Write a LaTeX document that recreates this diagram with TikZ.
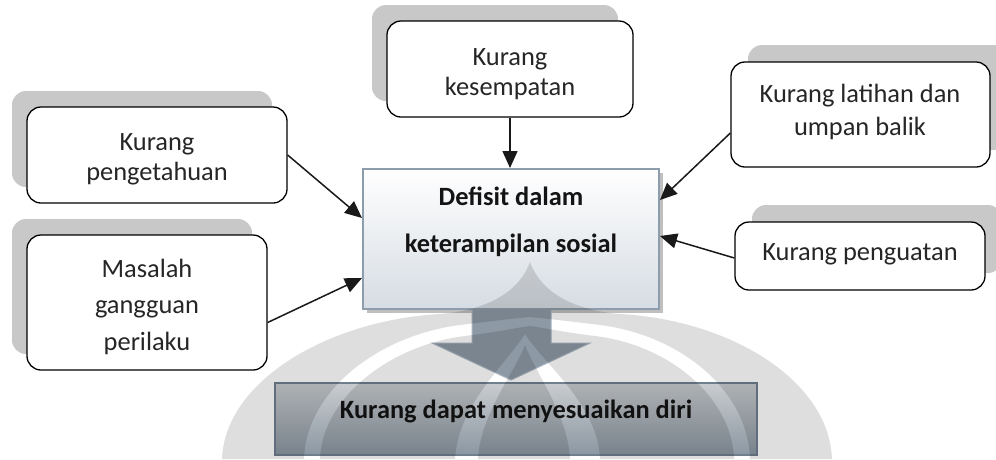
\documentclass[tikz,border=0pt]{standalone}
\usepackage{fontspec}
\setmainfont{Carlito}
\usetikzlibrary{arrows.meta,shadows}
\definecolor{shadowgray}{HTML}{C8C8C8}
\definecolor{txtgray}{HTML}{262626}
\definecolor{cboxedge}{HTML}{8E9DAB}
\definecolor{cboxbot}{HTML}{D6DCE3}
\definecolor{bboxedge}{HTML}{6F7F8E}
\definecolor{bboxtop}{HTML}{C9CCCF}
\definecolor{bboxbot}{HTML}{8B97A2}
\definecolor{bigarrow}{HTML}{8D99A5}
\definecolor{bigarrowedge}{HTML}{A9B6C2}
\tikzset{
  rbox/.style={draw=black, line width=1.3pt, fill=white, rounded corners=14pt, inner sep=0pt},
  lshadow/.style={general shadow={fill=shadowgray, rounded corners=16pt, shadow xshift=-15pt, shadow yshift=16pt}},
  rshadow/.style={general shadow={fill=shadowgray, rounded corners=16pt, shadow xshift=17pt, shadow yshift=17pt}},
  txt/.style={font=\fontsize{26.4}{30}\selectfont, text=txtgray, inner sep=0pt, anchor=base},
  btxt/.style={font=\fontsize{26.4}{30}\selectfont\bfseries, text=black!92, inner sep=0pt, anchor=base},
  arr/.style={line width=1.5pt, draw=black!90, -{Triangle[length=17pt,width=15pt]}},
}
\begin{document}
\begin{tikzpicture}[x=1pt,y=-1pt]
\useasboundingbox[fill=white] (0,0) rectangle (996,459);

% central box
\node[draw=cboxedge, line width=2pt, top color=white, bottom color=cboxbot,
      minimum width=296pt, minimum height=140pt, inner sep=0pt,
      general shadow={fill=black!25, shadow xshift=4pt, shadow yshift=-4pt}]
      (cbox) at (511,239) {};
\node[btxt] (c1) at (511,205) {Defisit dalam};
\node[btxt] (c2) at (511,252) {keterampilan sosial};

% big arrow
\path[fill=bigarrow, draw=bigarrowedge, line width=1pt]
  (472,310) -- (472,343) -- (432,343) -- (511,380) -- (590,343) -- (551,343) -- (551,310);

% bottom box
\node[draw=bboxedge, line width=2pt, top color=bboxtop, bottom color=bboxbot,
      minimum width=482pt, minimum height=72pt, inner sep=0pt]
      (bbox) at (516,419) {};
\node[btxt] (bt) at (516,418) {Kurang dapat menyesuaikan diri};

% watermark
\fill[black, opacity=0.13, even odd rule]
  (222,459) .. controls (225,380) and (330,320) .. (440,314) .. controls (490,310) and (520,290) .. (530,262)
            .. controls (540,290) and (570,310) .. (620,314) .. controls (730,320) and (829,380) .. (832,459) -- cycle
  (304,459) .. controls (306,390) and (380,335) .. (460,325) .. controls (500,320) and (520,318) .. (530,317)
            .. controls (540,318) and (560,320) .. (600,325) .. controls (680,335) and (748,390) .. (750,459) -- cycle
  (320,459) .. controls (322,398) and (390,345) .. (465,336) .. controls (505,331) and (520,327) .. (530,326)
            .. controls (540,327) and (555,331) .. (595,336) .. controls (670,345) and (732,398) .. (734,459) -- cycle
  (455,459) .. controls (458,405) and (505,365) .. (525,334) .. controls (545,365) and (598,405) .. (600,459) -- cycle
  (478,459) .. controls (480,415) and (515,372) .. (525,345) .. controls (535,372) and (568,415) .. (570,459) -- cycle;

% small boxes
\node[rbox, lshadow, minimum width=260pt, minimum height=96pt] (b1) at (157,155) {};
\node[txt] (b1a) at (157,150) {Kurang};
\node[txt] (b1b) at (157,180) {pengetahuan};

\node[rbox, lshadow, minimum width=240pt, minimum height=135pt] (b2) at (147,302.5) {};
\node[txt] (b2a) at (147,277) {Masalah};
\node[txt] (b2b) at (147,313.5) {gangguan};
\node[txt] (b2c) at (147,350) {perilaku};

\node[rbox, lshadow, minimum width=246pt, minimum height=96pt] (b3) at (510,69) {};
\node[txt] (b3a) at (510,65) {Kurang};
\node[txt] (b3b) at (510,95) {kesempatan};

\node[rbox, rshadow, minimum width=259pt, minimum height=105pt] (b4) at (860.5,114.5) {};
\node[txt] (b4a) at (860,102) {Kurang latihan dan};
\node[txt] (b4b) at (860,135) {umpan balik};

\node[rbox, rshadow, minimum width=250pt, minimum height=68pt] (b5) at (860,256) {};
\node[txt] (b5a) at (860,260) {Kurang penguatan};

% connectors
\draw[arr] (b1.east) -- ([yshift=21pt]cbox.west);
\draw[arr] ([yshift=-20pt]b2.east) -- ([yshift=-39pt]cbox.west);
\draw[arr] (b3.south) -- (b3.south |- cbox.north);
\draw[arr] ([yshift=-18.5pt]b4.west) -- ([yshift=39pt]cbox.east);
\draw[arr] ([yshift=-2pt]b5.west) -- ([yshift=3pt]cbox.east);
\end{tikzpicture}
\end{document}
